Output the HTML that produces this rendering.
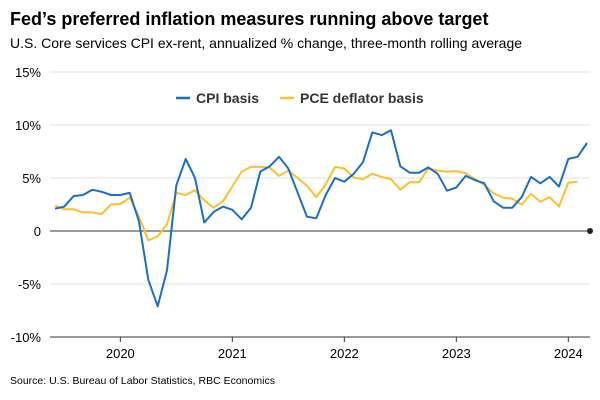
<!DOCTYPE html>
<html><head><meta charset="utf-8"><style>
body{margin:0;background:#fff;font-family:"Liberation Sans",Arial,sans-serif;}
svg{display:block}
</style></head><body>
<svg width="600" height="400" id="c">
<text x="10" y="25" font-size="18" font-weight="bold" fill="#000">Fed’s preferred inflation measures running above target</text>
<text x="10" y="48" font-size="14" fill="#000">U.S. Core services CPI ex-rent, annualized % change, three-month rolling average</text>
<text x="10" y="384" font-size="10.5" fill="#000">Source: U.S. Bureau of Labor Statistics, RBC Economics</text>
<g id="grid"></g><g id="axes"></g><g id="lines"></g>
<g>
<line x1="176" y1="98" x2="190" y2="98" stroke="#1a6fc4" stroke-width="2.5"/>
<text x="196" y="103" font-size="14" font-weight="bold" fill="#333">CPI basis</text>
<line x1="280" y1="98" x2="294" y2="98" stroke="#fbc02d" stroke-width="2.5"/>
<text x="300" y="103" font-size="14" font-weight="bold" fill="#333">PCE deflator basis</text>
</g>
</svg>
<script>
const yTicks=[15,10,5,0,-5,-10];
const yTickLabels=["15%","10%","5%","0","-5%","-10%"];
const xYears=[2020,2021,2022,2023,2024];
const cpiValues=[2.1,2.3,3.3,3.4,3.9,3.7,3.4,3.4,3.6,0.9,-4.6,-7.1,-3.7,4.3,6.8,5.0,0.8,1.8,2.3,2.0,1.1,2.2,5.6,6.1,7.0,5.9,3.6,1.35,1.2,3.4,5.0,4.65,5.4,6.5,9.3,9.05,9.5,6.1,5.5,5.5,6.0,5.4,3.8,4.1,5.2,4.8,4.5,2.8,2.2,2.2,3.2,5.1,4.5,5.1,4.2,6.8,7.0,8.3];
const pceValues=[2.4,2.05,2.05,1.75,1.75,1.6,2.5,2.55,3.15,1.35,-0.9,-0.5,0.65,3.6,3.4,3.85,2.9,2.2,2.8,4.2,5.6,6.05,6.05,6.0,5.2,5.7,5.0,4.25,3.2,4.4,6.05,5.9,5.05,4.9,5.4,5.1,4.9,3.9,4.6,4.6,5.9,5.7,5.6,5.65,5.45,4.9,4.35,3.55,3.15,3.05,2.5,3.5,2.75,3.2,2.3,4.55,4.65];
const startYear=2019+5/12; // June 2019
const ns="http://www.w3.org/2000/svg";
const L=50,R=590;
function yS(v){return 231-v*10.6;}
function xS(i){return 55+i*9.333;}
function xYear(y){return xS((y-startYear)*12);}
function mk(t,a,p){const e=document.createElementNS(ns,t);for(const k in a)e.setAttribute(k,a[k]);document.getElementById(p).appendChild(e);return e;}
yTicks.forEach((v,i)=>{
 if(v!==0&&v!==-10){const g=mk('line',{x1:L,x2:R,y1:yS(v),y2:yS(v),stroke:'#e2e2e2','stroke-width':1},'grid');
 
 }
 const t=mk('text',{x:41,y:yS(v)+5,'text-anchor':'end','font-size':13,fill:'#000'},'axes');
 t.textContent=yTickLabels[i];
 
 
});
const z=mk('line',{x1:L,x2:R,y1:yS(0),y2:yS(0),stroke:'#333','stroke-width':1},'axes');


const d=mk('circle',{cx:R,cy:yS(0),r:3,fill:'#222'},'axes');


const xa=mk('line',{x1:L,x2:R,y1:yS(-10),y2:yS(-10),stroke:'#333','stroke-width':1},'axes');


xYears.forEach(y=>{
 const x=xYear(y);
 const tk=mk('line',{x1:x,x2:x,y1:yS(-10),y2:yS(-10)+5,stroke:'#333'},'axes');
 
 
 const t=mk('text',{x:x,y:358,'text-anchor':'middle','font-size':13,fill:'#000'},'axes');
 t.textContent=y;
 
 
});
function path(vals){return vals.map((v,i)=>(i?'L':'M')+xS(i).toFixed(1)+','+yS(v).toFixed(1)).join('');}
const p2=mk('path',{d:path(pceValues),fill:'none',stroke:'#fbc02d','stroke-width':2,'stroke-linejoin':'round'},'lines');


const p1=mk('path',{d:path(cpiValues),fill:'none',stroke:'#1a6fc4','stroke-width':2,'stroke-linejoin':'round'},'lines');


</script>
</body></html>
